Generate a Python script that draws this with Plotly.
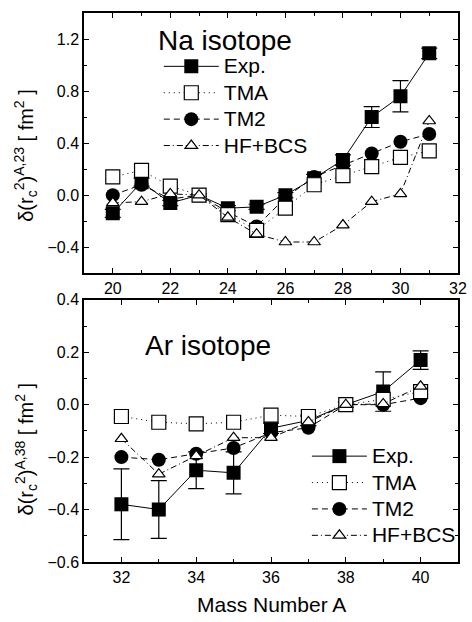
import plotly.graph_objects as go

# ---- Data: Na isotopes (relative to A=23) ----
na_A = [20, 21, 22, 23, 24, 25, 26, 27, 28, 29, 30, 31]
na_exp = [-0.14, 0.10, -0.06, 0.0, -0.10, -0.09, 0.0, 0.13, 0.27, 0.60, 0.76, 1.09]
na_exp_err = [0.03, 0.03, 0.02, 0.01, 0.02, 0.02, 0.02, 0.03, 0.04, 0.08, 0.12, 0.04]
na_tma = [0.14, 0.19, 0.07, 0.0, -0.15, -0.27, -0.10, 0.08, 0.15, 0.22, 0.29, 0.34]
na_tm2 = [0.0, 0.08, -0.03, 0.0, -0.13, -0.24, -0.02, 0.14, 0.23, 0.32, 0.41, 0.47]
na_hf = [-0.06, -0.05, 0.01, 0.0, -0.17, -0.30, -0.36, -0.36, -0.23, -0.05, 0.01, 0.57]

# ---- Data: Ar isotopes (relative to A=38) ----
ar_A = [32, 33, 34, 35, 36, 37, 38, 39, 40]
ar_exp = [-0.38, -0.40, -0.25, -0.26, -0.09, -0.06, 0.0, 0.05, 0.17]
ar_exp_err = [0.135, 0.11, 0.07, 0.08, 0.02, 0.02, 0.01, 0.075, 0.035]
ar_tma = [-0.045, -0.067, -0.073, -0.067, -0.04, -0.045, 0.0, 0.02, 0.05]
ar_tm2 = [-0.20, -0.21, -0.187, -0.165, -0.107, -0.088, 0.0, 0.0, 0.025]
ar_hf = [-0.13, -0.265, -0.195, -0.126, -0.126, -0.066, 0.0, 0.003, 0.07]

series_names = ["Exp.", "TMA", "TM2", "HF+BCS"]

FONT = "Liberation Sans, Arial, sans-serif"


def leg_name(s):
    return '<span style="font-size:21px">' + s + '</span>'


fig = go.Figure()


def add_series(xax, yax, A, exp, err, tma, tm2, hf, legend):
    fig.add_trace(go.Scatter(
        x=A, y=exp, name=leg_name(series_names[0]), mode="lines+markers",
        xaxis=xax, yaxis=yax, legend=legend, legendrank=1,
        line=dict(color="black", width=1, dash="solid"),
        marker=dict(symbol="square", size=14, color="black"),
        error_y=dict(type="data", array=err, color="black", thickness=1.2, width=8),
    ))
    fig.add_trace(go.Scatter(
        x=A, y=tm2, name=leg_name(series_names[2]), mode="lines+markers",
        xaxis=xax, yaxis=yax, legend=legend, legendrank=3,
        line=dict(color="black", width=1, dash="6px,4px"),
        marker=dict(symbol="circle", size=14, color="black"),
    ))
    fig.add_trace(go.Scatter(
        x=A, y=tma, name=leg_name(series_names[1]), mode="lines+markers",
        xaxis=xax, yaxis=yax, legend=legend, legendrank=2,
        line=dict(color="black", width=1, dash="1px,4px"),
        marker=dict(symbol="square", size=14, color="white",
                    line=dict(color="black", width=1.2)),
    ))
    fig.add_trace(go.Scatter(
        x=A, y=hf, name=leg_name(series_names[3]), mode="lines+markers",
        xaxis=xax, yaxis=yax, legend=legend, legendrank=4,
        line=dict(color="black", width=1, dash="6px,3px,1px,3px"),
        marker=dict(symbol="triangle-up", size=11, color="white",
                    line=dict(color="black", width=1.2)),
    ))


add_series("x", "y", na_A, na_exp, na_exp_err, na_tma, na_tm2, na_hf, "legend")
add_series("x2", "y2", ar_A, ar_exp, ar_exp_err, ar_tma, ar_tm2, ar_hf, "legend2")

axis_common = dict(
    showline=True, linecolor="black", linewidth=1.5, mirror="allticks",
    ticks="inside", ticklen=5, tickwidth=1, tickcolor="black",
    showgrid=False, zeroline=False,
    tickfont=dict(family=FONT, size=16, color="black"),
)

legend_common = dict(xanchor="left", yanchor="top", bgcolor="rgba(0,0,0,0)",
                     font=dict(family=FONT, size=18, color="black"),
                     tracegroupgap=0, itemsizing="trace", itemwidth=55)

fig.update_layout(
    width=472, height=622,
    margin=dict(l=84, r=9, t=5, b=60),
    paper_bgcolor="white", plot_bgcolor="white",
    font=dict(family=FONT, color="black"),
    xaxis=dict(domain=[0, 1], range=[19, 32], dtick=2, tick0=20, anchor="y",
               minor=dict(dtick=1, ticks="inside", ticklen=3, tickcolor="black"),
               **axis_common),
    yaxis=dict(domain=[0.526, 1], range=[-0.6, 1.4], dtick=0.4, tick0=0,
               tickformat=".1f", anchor="x",
               minor=dict(dtick=0.2, ticks="inside", ticklen=3, tickcolor="black"),
               **axis_common),
    xaxis2=dict(domain=[0, 1], range=[31, 41], dtick=2, tick0=32, anchor="y2",
                minor=dict(dtick=1, ticks="inside", ticklen=3, tickcolor="black"),
                **axis_common),
    yaxis2=dict(domain=[0, 0.4776], range=[-0.6, 0.4], dtick=0.2, tick0=0,
                tickformat=".1f", anchor="x2",
                minor=dict(dtick=0.1, ticks="inside", ticklen=3, tickcolor="black"),
                **axis_common),
    legend=dict(x=0.2, y=0.936, **legend_common),
    legend2=dict(x=0.596, y=0.226, **legend_common),
    annotations=[
        dict(text="Na isotope", xref="paper", yref="paper", x=0.193, y=0.95,
             xanchor="left", yanchor="middle", showarrow=False,
             font=dict(family=FONT, size=28)),
        dict(text="Ar isotope", xref="paper", yref="paper", x=0.158, y=0.395,
             xanchor="left", yanchor="middle", showarrow=False,
             font=dict(family=FONT, size=28)),
        dict(text="δ(r<sub>c</sub><sup>2</sup>)<sup>A,23</sup> [ fm<sup>2</sup> ]",
             xref="paper", yref="paper", x=-0.155, y=0.74, textangle=-90,
             xanchor="center", yanchor="middle", showarrow=False,
             font=dict(family=FONT, size=20)),
        dict(text="δ(r<sub>c</sub><sup>2</sup>)<sup>A,38</sup> [ fm<sup>2</sup> ]",
             xref="paper", yref="paper", x=-0.155, y=0.205, textangle=-90,
             xanchor="center", yanchor="middle", showarrow=False,
             font=dict(family=FONT, size=20)),
        dict(text="Mass Number A", xref="paper", yref="paper", x=0.5, y=-0.077,
             xanchor="center", yanchor="middle", showarrow=False,
             font=dict(family=FONT, size=21)),
    ],
)

fig.write_html("out.html")
